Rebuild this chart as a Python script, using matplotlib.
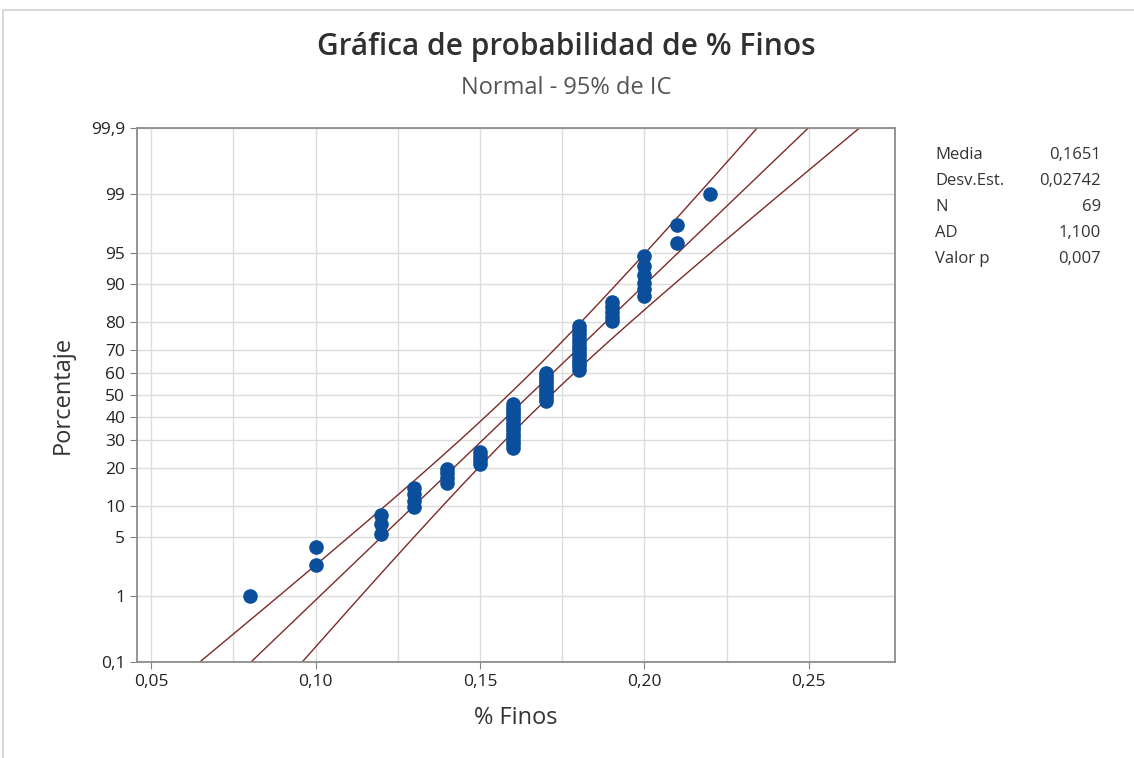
import numpy as np
from matplotlib import pyplot as plt
from statistics import NormalDist

# data (value, how many points share it)
finos_vals = [0.08, 0.10, 0.12, 0.13, 0.14, 0.15, 0.16, 0.17, 0.18, 0.19, 0.20, 0.21, 0.22]
finos_counts = [1, 2, 3, 4, 4, 4, 14, 10, 13, 5, 6, 2, 1]

media = 0.1651
desv_est = 0.02742
stat_names = ['Media', 'Desv.Est.', 'N', 'AD', 'Valor p']
stat_values = ['0,1651', '0,02742', '69', '1,100', '0,007']

pct_ticks = [0.1, 1, 5, 10, 20, 30, 40, 50, 60, 70, 80, 90, 95, 99, 99.9]
pct_labels = ['0,1', '1', '5', '10', '20', '30', '40', '50', '60', '70', '80', '90', '95', '99', '99,9']
x_ticks = [0.05, 0.10, 0.15, 0.20, 0.25]
x_labels = ['0,05', '0,10', '0,15', '0,20', '0,25']

plt.rcParams['font.family'] = ['Open Sans', 'DejaVu Sans']
nd = NormalDist()
zq = lambda p: nd.inv_cdf(p / 100.0)

x = np.repeat(finos_vals, finos_counts)
n = len(x)
ranks = np.arange(1, n + 1)
p_plot = (ranks - 0.3) / (n + 0.4) * 100  # median ranks like Minitab
z_plot = np.array([zq(p) for p in p_plot])

fig = plt.figure(figsize=(11.34, 7.58), dpi=100)
# light frame around the graph (top and left visible in the screenshot)
fig.add_artist(plt.Line2D([3 / 1134, 1], [1 - 10 / 758, 1 - 10 / 758], transform=fig.transFigure,
                          color='#d8d8d8', lw=1.5))
fig.add_artist(plt.Line2D([3 / 1134, 3 / 1134], [0, 1 - 10 / 758], transform=fig.transFigure,
                          color='#d8d8d8', lw=1.5))
ax = fig.add_axes([137 / 1134, 1 - 662 / 758, 758 / 1134, 534 / 758])

# fitted line and 95% CI bands
pp = np.linspace(0.05, 99.95, 400)
zz = np.array([zq(p) for p in pp])
xfit = media + zz * desv_est
se = desv_est * np.sqrt(1.0 / n + zz ** 2 / (2.0 * n))
line_col = '#7d2a26'
ax.plot(xfit, zz, color=line_col, lw=1.0, zorder=2)
ax.plot(xfit - 1.96 * se, zz, color=line_col, lw=1.0, zorder=2)
ax.plot(xfit + 1.96 * se, zz, color=line_col, lw=1.0, zorder=2)

ax.plot(x, z_plot, 'o', color='#0b4f9c', ms=9.5, mec='#0b4f9c', zorder=3, linestyle='none')

ax.set_xlim(0.0457, 0.2762)
ax.set_ylim(zq(0.1), zq(99.9))
ax.set_yticks([zq(p) for p in pct_ticks])
ax.set_yticklabels(pct_labels)
ax.set_xticks(x_ticks)
ax.set_xticklabels(x_labels)
ax.set_xticks(np.arange(0.075, 0.27, 0.05), minor=True)
ax.tick_params(which='minor', length=0)
ax.tick_params(which='major', length=5, color='#808080', labelsize=12.5, labelcolor='#222222')
ax.grid(True, which='both', color='#dcdcdc', lw=1.0, zorder=0)
ax.set_axisbelow(True)
for s in ax.spines.values():
    s.set_color('#8c8c8c')
    s.set_linewidth(1.3)

ax.set_xlabel('% Finos', fontsize=17, color='#333333', labelpad=12)
ax.set_ylabel('Porcentaje', fontsize=17, color='#333333', labelpad=12)

fig.text(566 / 1134, 1 - 47 / 758, 'Gráfica de probabilidad de % Finos', ha='center', va='center',
         fontsize=21.5, color='#303030', fontweight='semibold')
fig.text(566 / 1134, 1 - 88 / 758, 'Normal - 95% de IC', ha='center', va='center',
         fontsize=17, color='#555555')

for i, (nm, val) in enumerate(zip(stat_names, stat_values)):
    yy = 1 - (155 + 26 * i) / 758
    fig.text(935 / 1134, yy, nm, ha='left', va='center', fontsize=12, color='#333333')
    fig.text(1101 / 1134, yy, val, ha='right', va='center', fontsize=12, color='#333333')

fig.savefig('out.png', dpi=100)
